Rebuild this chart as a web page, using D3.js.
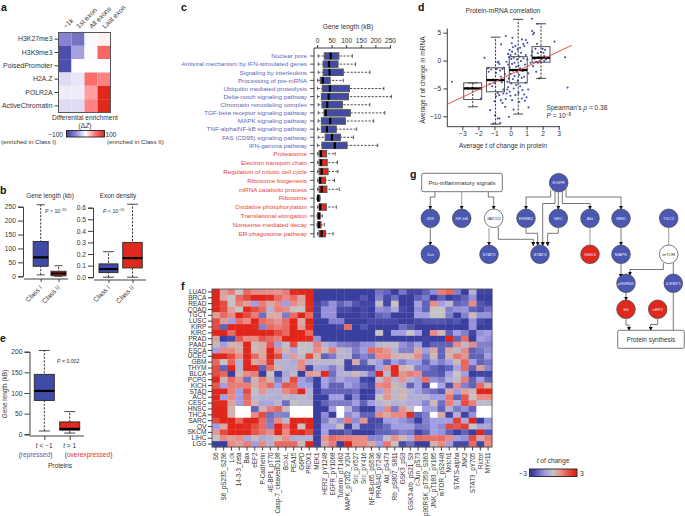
<!DOCTYPE html>
<html><head><meta charset="utf-8">
<script src="https://cdnjs.cloudflare.com/ajax/libs/d3/7.8.5/d3.min.js"></script>
<style>
html,body{margin:0;padding:0;background:#fff}
svg{display:block}
text{font-family:"Liberation Sans",Arial,sans-serif;fill:#333}
.bold{font-weight:700;fill:#111}
</style></head><body>
<script>
// ---------- panel a ----------
const aMarks=["H3K27me3","H3K9me3","PoisedPromoter","H2A.Z","POLR2A","ActiveChromatin"];
const aRegions=["−1k","1st exon","All exons","Last exon"];
const aValues=[[-55,-65,-3,5],[-90,-40,-2,60],[-90,-1,-1,-1],[-15,-10,55,45],[-8,-8,35,100],[-15,-15,45,100]];
// ---------- panel b, e: [low, q1, median, q3, high] ----------
const bClasses=["Class I","Class II"];
const bGeneLength=[[5,36,68,125,257],[0,2,10,18,38]];
const bExonDensity=[[0,.04,.07,.115,.22],[0,.08,.165,.3,.63]];
const eGroups=["t < −1","t > 1"];
const eGeneLength=[[8,82,105,145,203],[3,10,13,30,55]];
// ---------- panel c ----------
const cBlue=["Nuclear pore","Antiviral mechanism by IFN-stimulated genes","Signaling by interleukins","Processing of pre-mRNA","Ubiquitin mediated proteolysis","Delta-notch signaling pathway","Chromatin remodeling complex","TGF-beta receptor signaling pathway","MAPK signaling pathway","TNF-alpha/NF-kB signaling pathway","FAS (CD95) signaling pathway","IFN-gamma pathway"];
const cRed=["Proteasome","Electron transport chain","Regulation of mitotic cell cycle","Ribosome biogenesis","mRNA catabolic process","Ribosome","Oxidative phosphorylation","Translational elongation","Nonsense-mediated decay","ER-phagosome pathway"];
const cBlueStats=[[4,25,47,75,121],[4,21,41,72,132],[4,21,43,90,181],[2,11,20,45,90],[2,18,44,111,229],[2,15,40,108,255],[4,17,35,87,181],[4,24,30,114,232],[4,15,45,97,194],[2,15,34,66,136],[4,28,51,80,125],[2,17,61,103,208]];
const cRedStats=[[2,7,14,33,62],[2,7,14,35,70],[2,7,16,38,72],[2,7,11,29,60],[2,7,16,34,76],[0,2,4,10,10],[2,7,11,32,66],[0,2,7,11,18],[0,2,7,14,25],[2,7,16,29,55]];
const cTicks=[0,50,100,150,200,250];
// ---------- panel d ----------
const dBoxT=[-2.35,-.93,.48,1.9];
const dBoxes=[[-8.3,-7,-5,-4,-4],[-11.4,-5.6,-3.5,-1.3,4.2],[-9.6,-4,-1.7,.7,7.4],[-3.2,-.3,.5,2.5,6.6]];
const dFit=[[-3.97,-7.9],[3.82,2.75]];
const dProtein=[-3.65,-2.37,-2.68,-1.85,-1.62,-1.27,-.96,-.79,-.64,-1.06,-.69,-.58,-.29,.12,.08,.71,1.33,1.68,1.35,1.47,1.41,2.74,3.4,3.55,1.12,-.1,.19,-.33,
-1.4,-1.35,-1.2,-1.1,-1,-.95,-.9,-.85,-.8,-.75,-.7,-.65,-.6,-.55,-.5,-.45,-.8,-.7,-.6,-.5,-.45,-.4,-.35,-1.3,-1.15,-1,-.9,
-.3,-.25,-.2,-.2,-.15,-.15,-.1,-.1,-.05,-.05,0,0,0,.05,.05,.1,.1,.1,.15,.15,.2,.2,.25,.25,.3,.3,.35,.35,.4,.4,.45,.45,.5,.5,.55,.55,.55,.6,.6,.65,.65,.7,.7,.75,.75,.8,.85,.85,.85,.9,.9,.95,.95,1,1,1.05,1.05,1.1,1.1,.95,.8,.6,.3,.15,-.05,-.15,-.25,
1.25,1.3,1.35,1.4,1.5,1.55,1.6,1.7,1.7,1.75,1.85,1.9,2,2.1,2.15,2.2,1.6,1.8,2.05,1.65,2.1];
const dMrna=[-3.8,-4.9,-4.9,-6.8,.5,-8.9,-9.8,-10.4,-11.2,-11.3,-10.4,2.9,4.4,4.1,3.1,3.8,7.5,6.6,5.3,5,4.7,3.4,.6,-4.85,-8.4,-10.1,-8.8,-8.3,
-1.4,-2,-1.6,-3.4,-4,-3.6,-2.2,-1.5,-.3,-.2,-.6,-1.8,-2.9,-3.9,-1.5,-5.9,-5.8,-6.2,-7.1,-7.6,-5.2,-1.3,-2.4,-4.2,-4.6,-7.3,-6.4,
-6.9,-5.9,-5.2,-3.8,-4.8,-.7,-3.2,.6,-5.6,-1.2,-6.3,-2.4,1,-4.1,.3,-7.1,-.6,1.6,-3.3,-1.8,-5,.5,-2.8,-.4,1.2,-6.2,-4.4,-1.1,-2,.2,2,-3.6,-5.8,-.9,-7.4,-2.6,.7,-4.6,-1.4,-.1,1.4,-6.8,-3.1,-5.3,-1.9,.4,-6.1,-2.9,2.6,-7.2,-.7,-4,1,-6.6,-1.6,.2,3.2,-2.3,-5.2,3.7,3,2.3,2.6,2.4,1.9,1.2,-.2,
-.4,.9,1.6,-1,.3,2.1,-.2,-.4,1.3,.6,-.1,1.5,2.1,.8,1.9,.2,-2,-3.2,1.4,3,-.1];
const dTicksX=[-3,-2,-1,0,1,2,3];
const dTicksY=[5,0,-5,-10];
// ---------- panel f ----------
const fTumours=["LUAD","BRCA","READ","COAD","TGCT","LUSC","KIRP","KIRC","PRAD","PAAD","ESCA","UCEC","GBM","THYM","BLCA","PCPG","KICH","STAD","ACC","CESC","HNSC","THCA","SARC","OV","SKCM","LIHC","LGG"];
const fProteins=["S6","S6_pS235_S236","Lck","14-3-3_zeta","Bax","eEF2","P-Cadherin","4E-BP1_pT70","Casp-7_cleavedD198","Bcl-xL","PEA15","G6PD","PRDX1","MEK1","HER2_pY1248","EGFR_pY1068","Tuberin_pT1462","MAPK_pT202_Y204","Src_pY527","Src_pY416","NF-kB-p65_pS536","PRAS40_pT246","Akt_pS473","Rb_pS807_S811","GSK3_pS9","GSK3-a/b_pS21_S9","c-Jun_pS73","p90RSK_pT359_S363","JNK_pT183_pY185","mTOR_pS2448","Notch1","STATS-alpha","JNK2","STAT3_pY705","Rictor","MYH11"];
const _=null;
const fValues=[
[3,.6,1.2,0,1.5,1,1,1,.8,1.2,2.5,3,3,-2.9,-2.9,-2.9,-2.9,-2.9,-2.9,-2.9,-2.9,-1.7,-2,-2.9,-1.7,-2.5,-2.5,-2,-1.3,1.2,1.6,-1.5,-2.8,-.5,-2.5,-2.5],
[3,.5,0,1.5,2,3,3,2.5,1.5,1,1.5,.6,3,-2.9,-2.9,-2.9,-2.9,-2.6,-2.8,-2.2,-2.8,-1.5,-2.4,-1.8,-2.6,-2.8,-2,-1.6,-2.8,-2,-2.7,-2.4,-2,-1.2,-2.6,-2.6],
[3,2,0,1.2,.6,-1,1.2,.5,1,-1,1,.5,2.5,-2.5,-2,-1.2,-2,-1.5,-2.2,-2.5,-2.5,-.2,-2.5,0,-2.8,-2.8,-1,-2,1,-1,-.3,-2,-1.8,1,-2.2,-2.5],
[3,2,.6,0,2.5,2,1.5,-.5,1.2,1,0,0,2.5,-2.5,-1.2,-1.2,-2.4,-2.4,-2.6,-2.4,-2.6,-1.2,-1.4,-.7,-2.4,-2.8,-1.2,-2,0,0,-1.5,-1.2,-1.1,-2,-2.3,-1.8],
[.6,1.5,1,3,2,1.2,-1.8,.4,.4,-1.6,1.5,2.8,1.5,-2.5,-1.2,-1.2,-2.6,-2.6,-2.6,-2.4,-2.7,-2,-1.8,-2.6,-2.6,-2.8,-1,-1,0,0,-1.5,-2.8,-1.5,.2,-1.2,-1.2],
[2,.7,-1,1.5,1,3,1.5,1.2,.8,1.5,3,.4,3,-2.8,-2.8,-1.5,-1.5,-2.8,-2.6,-2.6,-2.4,-2.4,-2.4,-2.4,-2.8,-2.8,-2.4,-2.2,-2.2,-2.2,-2.4,-2.2,-2.6,-1.2,-2.4,-2.7],
[2,-2,3,3,3,2.5,-1.5,1.5,1.2,1.5,3,.7,2.5,-2.9,-2.9,-2.9,-2.4,1.5,-2.7,-2.2,-2.7,-2.8,-2.8,-2.8,-1.8,-2.2,-2.8,-2.8,-2.8,-2.8,-2.8,-2.8,-2.8,-1.2,-2.6,-2.6],
[3,3,1.5,3,3,3,3,3,2,1.5,3,3,1.5,-2.9,-2.9,-2.9,-2.9,-2.9,-2.9,-2.9,-2.9,0,-2.8,-1,-1,0,-1,-2.8,1,.2,-2,-1,-1.5,-2.5,-1.2,-1],
[.6,-3,-2.4,1.8,1,1,1.8,1.5,1.2,3,3,3,2.5,-1.2,-2.9,-2.9,-2.9,-2.9,-2.9,-2.9,-2.9,-2.9,-2.9,-2.9,-2.9,-2.9,-2.9,-2.5,-2.6,-2.6,3,-2,1.5,-2.8,-1,-1.2],
[.2,-1,.3,.4,3,.2,.4,1.8,-1,-.2,2,-.1,-.1,1.2,-.5,-1,-1.5,-1.6,-1.8,-1.2,-1.2,-.3,-.2,-.2,-1.2,-1.6,-1,-2.5,-2,-2,-2,1,-.3,1,-1.5,-1.5],
[-1,1,1,.4,3,.2,.5,3,1,.3,-.8,0,-.2,1,.2,1.2,-.3,-.5,-1.6,-1,1.5,1.2,.8,-.5,-1.5,-1.5,.5,-1,.5,-2,.5,-.3,1,-2,-1.7,-1.3],
[3,3,2,1,3,1.5,.5,3,2,-.7,.7,-.2,2,.3,-2,-1.6,-.4,-.4,-2,-1.4,-1.8,1,1,.3,.2,.2,1,-1.5,.2,-2,.3,1.3,.8,-2,-2,-1],
[1.6,0,1.6,-.4,3,.5,.8,2.3,-.4,-.4,-.7,1,-.5,-.3,-.3,-.3,-.2,-2.5,.4,-2,-.5,-1,-2,-1,-1.5,-1,-1,-2,-1,-1.5,-1,.2,1.6,-1,-2,-1.7],
[2,-2,3,-.4,3,2.5,-2,1.5,.3,-.5,-.5,1,-2.5,-.8,-1,-1.5,-.6,-2.5,-2.3,-2.3,-2.3,-1,.8,3,.2,0,-1.5,-1.6,-2,-2.3,-2,-.9,1.5,-2,.7,-1.4],
[2,1.6,-2.8,.2,1,1.2,-2.8,0,-2.5,-.8,-.3,-2.6,.7,.5,2.5,-1.8,-.5,-.5,.2,-.5,-1.5,3,-.3,2.5,.8,1.2,1,-2,-2,-2.2,-1,0,-1,-2.6,-2.5,-2.5],
[2.8,.3,1.5,.8,-1.8,.3,1.2,.3,-1.6,-.5,2,-1,-1.5,-2.6,-.9,-1.4,-.7,-1.2,-1.2,-2.5,-2.6,-.2,1,-.5,.8,-.5,-1,1.4,-1.2,-1.5,-.5,-.2,1.2,-2,-1,-2],
[1.8,-1,1.2,1.2,1.2,.4,1,1.5,-1,1.8,1.6,-1,-1,-2.6,-1,-2,-2,-1,-1.4,-2,-2.4,1,1.2,.2,-.5,-2,-1,-2.4,_,-.8,-2.3,1,-1.5,-2,1.5,.3],
[3,3,1.2,-1,2,-.2,.8,-.5,-.5,1,1.5,3,-.5,-2.6,-2,-2,-2,-2,-1.8,-2.6,-2.6,-1,.8,-.3,.3,-.5,-1,-1.5,-1.8,-2.2,.5,-1,.6,.2,3,3],
[3,-1,1,-1,1.6,-.3,-.5,-.5,-.6,-.3,-.5,-.3,-.5,-2.6,-2.6,-1,-1,-2.6,-1.4,-2.6,-2.5,0,.8,-.3,.2,-.6,-.6,-.5,-1,-1,1.3,-2,1.8,0,1,1],
[2.5,2.5,.6,-1,1.4,.3,-.8,-.8,-.4,-1.8,-.1,-.3,-.3,-2.6,-2,-1.6,-1.6,-1.6,-1,-2,-1,-.4,-.2,-.5,-.4,-.7,-.7,-1.4,.2,-1.8,1.2,-.6,2,1.2,-.3,-.3],
[3,3,.2,_,_,-2,.3,1.2,1.6,.2,_,_,_,-2.6,-2.6,-1,_,-.5,-1.8,-2.6,-2.6,-1,1,-1.6,.8,-.2,_,-1,-1,-2,-.5,-1.6,-1.2,-2,_,_],
[3,3,.3,_,_,1,2,-1.8,-1.4,-1.5,_,_,_,-2.8,-1.3,-2.6,_,-1.3,-.8,-2,-2,1,.5,1,1,2.5,-2,-1.5,_,.5,-2.5,-.6,-2.5,-1.2,_,_],
[2,3,3,1.6,3,3,1.5,-1.6,1,-.3,3,3,3,-2.8,-1.5,-.5,-1.2,1.3,-1.3,.8,-2.4,-2.4,-1,-.8,-1.2,-1.6,-2.6,-1.5,-1,-1,-1,2.2,-.7,3,-2.7,-1.2],
[-1,.5,3,3,2.5,2,1.5,-1.5,3,1.5,3,0,3,-2.8,-1,-1,.1,-2.8,-.8,-2.4,-2.4,-2.2,-1.8,-1,-1,-1,-1.7,-1.6,-1,-1.3,2,1.8,2.2,0,-.8,-.8],
[.7,2,3,3,3,1.8,1.4,1,3,1,2.5,3,2,-2.8,-1,-2.4,-2.4,-2,-2.6,-2.6,-2.6,-2,-2,-1.8,-1.4,-1.6,-2.5,-2,-1,-1.2,-2,-2.7,-2,-2.7,3,-2.2],
[0,1,.6,1,-.8,.2,-.7,-.5,.2,.9,-.6,-.5,-.5,-2.8,.8,1.5,1.2,1.2,1,1,-1.4,-1.4,-.2,.9,.2,-.7,1.5,1.4,1.4,1.5,1,-1,-1.2,2,.4,1.2],
[-2.8,-2.8,1,.6,1.2,-1,1,-.5,1.5,1.5,1.5,.2,3,-2.8,.5,1.2,-2.7,3,1,1,.5,-1,1.3,0,-2.4,-1.8,-2.7,-2.7,.3,1,-1,-2.4,-2.4,1.5,-2.5,1]
];
// ---------- panel g ----------
const gNodes=["EGFR","JNK","NF-kB","JAK1/2","ERBB2","SRC","Akt","MEK","TSC2","Jun","STAT5","STAT3","GSK3","MAPK","mTOR","p90RSK","4-EBP1","S6","eEF2"];
const gRed=["GSK3","S6","eEF2"];
const gWhite=["JAK1/2","mTOR"];

// ---------- layout ----------
const W=685,H=516;
const svg=d3.select("body").append("svg").attr("width",W).attr("height",H).attr("viewBox",[0,0,W,H]);
const BLUE="#3f4ba6",RED="#e0281c",INK="#2a2a2a",TXT="#333";
const fs=6.7;
svg.append("defs");
function label(g,x,y,s,o={}){
  const t=g.append("text").attr("x",x).attr("y",y).attr("font-size",o.size||fs).attr("text-anchor",o.anchor||"start").text(s);
  if(o.color)t.style("fill",o.color);
  if(o.rotate!=null)t.attr("transform",`rotate(${o.rotate},${x},${y})`);
  if(o.italic)t.attr("font-style","italic");
  return t;
}
function rich(g,x,y,parts,o={}){
  const t=g.append("text").attr("x",x).attr("y",y).attr("font-size",o.size||fs).attr("text-anchor",o.anchor||"start");
  if(o.rotate!=null)t.attr("transform",`rotate(${o.rotate},${x},${y})`);
  parts.forEach(p=>{
    const s=t.append("tspan").text(p.t);
    if(p.i)s.attr("font-style","italic");
    if(p.sup)s.attr("baseline-shift","super").attr("font-size",(o.size||fs)*.7);
    if(p.c)s.style("fill",p.c);
  });
  return t;
}
function styleAxis(sel){
  sel.selectAll("path,line").attr("stroke",INK).attr("stroke-width",.9);
  sel.selectAll("text").attr("font-size",fs).style("fill",TXT);
  sel.attr("font-family",null);
}
function vBox(g,y,cx,w,st,fill,cap,opt={}){
  const [lo,q1,m,q3,hi]=st;
  const stroke=opt.stroke||"#333";
  const bg=g.append("g");
  bg.append("line").attr("x1",cx).attr("x2",cx).attr("y1",y(lo)).attr("y2",y(hi)).attr("stroke","#222").attr("stroke-width",.9).attr("stroke-dasharray","2.2,1.4");
  [lo,hi].forEach(v=>bg.append("line").attr("x1",cx-cap/2).attr("x2",cx+cap/2).attr("y1",y(v)).attr("y2",y(v)).attr("stroke","#333").attr("stroke-width",.9));
  bg.append("rect").attr("x",cx-w/2).attr("width",w).attr("y",y(q3)).attr("height",y(q1)-y(q3)).attr("fill",fill).attr("stroke",stroke).attr("stroke-width",opt.sw||1);
  bg.append("line").attr("x1",cx-w/2).attr("x2",cx+w/2).attr("y1",y(m)).attr("y2",y(m)).attr("stroke","#000").attr("stroke-width",opt.mw||2.2);
}
function hBox(g,x,cy,h,st,fill,cap){
  const [lo,q1,m,q3,hi]=st;
  g.append("line").attr("x1",x(lo)).attr("x2",x(hi)).attr("y1",cy).attr("y2",cy).attr("stroke","#222").attr("stroke-width",.8).attr("stroke-dasharray","2.2,1.4");
  [lo,hi].forEach(v=>g.append("line").attr("y1",cy-cap/2).attr("y2",cy+cap/2).attr("x1",x(v)).attr("x2",x(v)).attr("stroke","#333").attr("stroke-width",.8));
  g.append("rect").attr("x",x(q1)).attr("width",x(q3)-x(q1)).attr("y",cy-h/2).attr("height",h).attr("fill",fill).attr("stroke","#555").attr("stroke-width",1);
  g.append("line").attr("y1",cy-h/2).attr("y2",cy+h/2).attr("x1",x(m)).attr("x2",x(m)).attr("stroke","#000").attr("stroke-width",2.2);
}
[["a",1,11],["b",0,194],["e",0,342],["c",181,11],["d",418,11],["f",181,290],["g",410,178]].forEach(d=>{
  label(svg,d[1],d[2],d[0],{size:10.5}).attr("class","bold");
});

// panel a
{
  const g=svg.append("g");
  const x=d3.scaleBand().domain(aRegions).range([58.5,110.5]);
  const y=d3.scaleBand().domain(aMarks).range([32.5,112.5]);
  const c=d3.scaleLinear().domain([-100,-50,0,50,100]).range(["#3a3f9f","#8f89d6","#ffffff","#ff7575","#e0281c"]);
  aValues.forEach((row,i)=>row.forEach((v,j)=>g.append("rect").attr("x",x(aRegions[j])).attr("y",y(aMarks[i])).attr("width",x.bandwidth()).attr("height",y.bandwidth()).attr("fill",c(v))));
  g.append("rect").attr("x",58.5).attr("y",32.5).attr("width",52).attr("height",80).attr("fill","none").attr("stroke","#555").attr("stroke-width",1);
  const ax=g.append("g").attr("transform","translate(58,0)").call(d3.axisLeft(y).tickSize(3.5).tickPadding(2));
  styleAxis(ax);ax.select(".domain").remove();
  ax.selectAll("text").attr("font-size",6.9);
  aRegions.forEach(r=>label(g,x(r)+x.bandwidth()/2+1,29,r,{rotate:-45,size:6.9}));
  label(g,85,119.5,"Differential enrichment",{anchor:"middle",size:6.6});
  rich(g,85,128,[{t:"(Δ"},{t:"Z",i:1},{t:")"}],{anchor:"middle",size:6.6});
  const lg=svg.select("defs").append("linearGradient").attr("id","ga");
  c.domain().forEach(v=>lg.append("stop").attr("offset",(v+100)/200).attr("stop-color",c(v)));
  g.append("rect").attr("x",66.5).attr("y",130.5).attr("width",38).attr("height",6.5).attr("fill","url(#ga)").attr("stroke","#222").attr("stroke-width",.9);
  label(g,63,136.5,"−100",{anchor:"end",size:6.6});
  label(g,105.5,136.5,"100",{size:6.6});
  label(g,1,144,"(enriched in Class I)",{size:6.2});
  label(g,107,144,"(enriched in Class II)",{size:6.2});
}
// panel b
{
  const g=svg.append("g");
  const y1=d3.scaleLinear().domain([0,250]).range([276.3,206.7]);
  const ya=g.append("g").attr("transform","translate(23,0)").call(d3.axisLeft(y1).tickValues([0,50,100,150,200,250]).tickSize(5).tickPadding(2));
  styleAxis(ya);
  const x1=d3.scaleOrdinal().domain(bClasses).range([40.7,58.5]);
  const xa=g.append("g").attr("transform","translate(0,279)").call(d3.axisBottom(d3.scalePoint().domain(bClasses).range([40.7,58.5])).tickSize(3).tickFormat(""));
  styleAxis(xa);xa.select(".domain").attr("d","M24,0H68");
  vBox(g,y1,x1("Class I"),15,bGeneLength[0],BLUE,8);
  vBox(g,y1,x1("Class II"),15,bGeneLength[1],RED,8);
  label(g,50,198,"Gene length (kb)",{anchor:"middle",size:6.4});
  rich(g,45,213,[{t:"P",i:1},{t:" < 10"},{t:"−16",sup:1}],{size:5.2});
  bClasses.forEach(c=>label(g,x1(c)+2,288,c,{anchor:"end",rotate:-45,size:6.7}));
  const y2=d3.scaleLinear().domain([0,.6]).range([277.2,207.7]);
  const yb=g.append("g").attr("transform","translate(93,0)").call(d3.axisLeft(y2).tickValues([0,.1,.2,.3,.4,.5,.6]).tickSize(5).tickPadding(2).tickFormat(d3.format(".1f")));
  styleAxis(yb);
  const x2=d3.scaleOrdinal().domain(bClasses).range([108.5,132.5]);
  const xb=g.append("g").attr("transform","translate(0,280)").call(d3.axisBottom(d3.scalePoint().domain(bClasses).range([108.5,132.5])).tickSize(3).tickFormat(""));
  styleAxis(xb);xb.select(".domain").attr("d","M94,0H146");
  vBox(g,y2,x2("Class I"),19,bExonDensity[0],BLUE,11);
  vBox(g,y2,x2("Class II"),19.5,bExonDensity[1],RED,11);
  label(g,118,198,"Exon density",{anchor:"middle",size:6.4});
  rich(g,103,213,[{t:"P",i:1},{t:" < 10"},{t:"−16",sup:1}],{size:5.2});
  bClasses.forEach(c=>label(g,x2(c)+2,288,c,{anchor:"end",rotate:-45,size:6.7}));
}
// panel e
{
  const g=svg.append("g");
  const y=d3.scaleLinear().domain([0,200]).range([434.3,351.7]);
  const ya=g.append("g").attr("transform","translate(29.5,0)").call(d3.axisLeft(y).tickValues([0,50,100,150,200]).tickSize(5).tickPadding(2));
  styleAxis(ya);
  const x=d3.scalePoint().domain(eGroups).range([44.3,69.7]);
  const xa=g.append("g").attr("transform","translate(0,436)").call(d3.axisBottom(x).tickSize(4).tickFormat(""));
  styleAxis(xa);xa.select(".domain").attr("d","M29.5,0H84");
  vBox(g,y,x(eGroups[0]),20,eGeneLength[0],BLUE,11);
  vBox(g,y,x(eGroups[1]),20,eGeneLength[1],RED,11);
  label(g,6.5,394,"Gene length (kB)",{anchor:"middle",rotate:-90,size:6.4});
  rich(g,57,363,[{t:"P",i:1},{t:" = 0.002"}],{size:5.2});
  rich(g,44.3,448,[{t:"t",i:1},{t:" < −1"}],{anchor:"middle",size:6.6});
  rich(g,69.7,448,[{t:"t",i:1},{t:" > 1"}],{anchor:"middle",size:6.6});
  rich(g,35.5,456.5,[{t:"("},{t:"repressed",c:"#5a62b8"},{t:")"}],{anchor:"middle",size:6.6});
  rich(g,88.5,456.5,[{t:"("},{t:"overexpressed",c:"#e8352a"},{t:")"}],{anchor:"middle",size:6.6});
  label(g,60,467.5,"Proteins",{anchor:"middle",size:6.6});
}
// panel c
{
  const g=svg.append("g");
  const x=d3.scaleLinear().domain([0,250]).range([317,390]);
  const yB=d3.scalePoint().domain(cBlue).range([56,145.4]);
  const yR=d3.scalePoint().domain(cRed).range([153.7,233.7]);
  const ax=g.append("g").attr("transform","translate(0,48)").call(d3.axisTop(x).tickValues(cTicks).tickSize(3).tickPadding(2));
  styleAxis(ax);
  ax.selectAll("text").attr("font-size",6.6);
  ax.select(".domain").attr("d","M314,0H391");
  g.append("line").attr("x1",314).attr("x2",314).attr("y1",48).attr("y2",238).attr("stroke",INK).attr("stroke-width",.9);
  label(g,348,29,"Gene length (kB)",{anchor:"middle",size:6.7});
  const draw=(names,stats,y,fill,col)=>names.forEach((n,i)=>{
    const cy=y(n);
    g.append("line").attr("x1",310).attr("x2",314).attr("y1",cy).attr("y2",cy).attr("stroke",INK).attr("stroke-width",.8);
    label(g,307,cy+2.3,n,{anchor:"end",size:6.25,color:col});
    hBox(g,x,cy,6.4,stats[i],fill,3.6);
  });
  draw(cBlue,cBlueStats,yB,BLUE,"#5e66b9");
  draw(cRed,cRedStats,yR,RED,"#e9443a");
}
// panel d
{
  const g=svg.append("g");
  const x=d3.scaleLinear().domain([-3,3]).range([462.3,558.7]);
  const y=d3.scaleLinear().domain([5,-10]).range([32.7,116.3]);
  const ya=g.append("g").attr("transform","translate(447.3,0)").call(d3.axisLeft(y).tickValues(dTicksY).tickSize(4).tickPadding(2).tickFormat(d=>d<0?"−"+(-d):d));
  styleAxis(ya);ya.select(".domain").attr("d","M0,28.5V126.7");
  const xa=g.append("g").attr("transform","translate(0,126.7)").call(d3.axisBottom(x).tickValues(dTicksX).tickSize(3.5).tickPadding(1.5).tickFormat(d=>d<0?"−"+(-d):d));
  styleAxis(xa);xa.select(".domain").attr("d","M447.3,0H560");
  g.selectAll(".pt").data(dProtein).enter().append("circle").attr("cx",d=>x(d)).attr("cy",(d,i)=>y(dMrna[i])).attr("r",1.05).attr("fill","#4650ad");
  dBoxT.forEach((t,i)=>{
    vBox(g,y,x(t),18,dBoxes[i],"none",10,{stroke:"#444",sw:.9,mw:2.3});
  });
  g.append("line").attr("x1",x(dFit[0][0])).attr("y1",y(dFit[0][1])).attr("x2",x(dFit[1][0])).attr("y2",y(dFit[1][1])).attr("stroke","#e8402f").attr("stroke-width",.9);
  label(g,503,12.5,"Protein-mRNA correlation",{anchor:"middle",size:6.6});
  rich(g,503,147.5,[{t:"Average "},{t:"t",i:1},{t:" of change in protein"}],{anchor:"middle",size:6.6});
  rich(g,425,80,[{t:"Average "},{t:"t",i:1},{t:" of change in mRNA"}],{anchor:"middle",rotate:-90,size:6.6});
  rich(g,546.5,109.5,[{t:"Spearman's "},{t:"ρ",i:1},{t:" = 0.38"}],{size:6.6});
  rich(g,546.5,118,[{t:"P",i:1},{t:" = 10"},{t:"−8",sup:1}],{size:6.6});
}
// panel f
{
  const g=svg.append("g");
  const x=d3.scaleBand().domain(fProteins).range([212,492]);
  const y=d3.scaleBand().domain(fTumours).range([289,447]);
  const stops=[-2.6,-1,0,1,2.6], cols=["#3a3f9f","#a39ee2","#c7c3c3","#ea8a84","#e0261a"];
  const c=d3.scaleLinear().domain(stops).range(cols).clamp(true);
  fValues.forEach((row,i)=>row.forEach((v,j)=>{
    if(j>=fProteins.length) return;
    g.append("rect").attr("x",x(fProteins[j])).attr("y",y(fTumours[i])).attr("width",x.bandwidth()+.3).attr("height",y.bandwidth()+.3).attr("fill",v===null?"#fff":c(v));
  }));
  g.append("rect").attr("x",212).attr("y",289).attr("width",280).attr("height",158).attr("fill","none").attr("stroke","#555").attr("stroke-width",.9);
  const ay=g.append("g").attr("transform","translate(212,0)").call(d3.axisLeft(y).tickSize(4).tickPadding(1.5));
  styleAxis(ay);ay.select(".domain").remove();
  ay.selectAll("text").attr("font-size",6.6);
  const ax=g.append("g").attr("transform","translate(0,447)").call(d3.axisBottom(x).tickSize(3.5).tickPadding(2));
  styleAxis(ax);ax.select(".domain").remove();
  ax.selectAll("text").attr("font-size",6.35).attr("transform","rotate(-90)").attr("text-anchor","end").attr("x",-5.5).attr("y",0).attr("dy","0.35em");
  rich(g,553,463,[{t:"t",i:1},{t:" of change"}],{anchor:"middle",size:6.6});
  const lg=svg.select("defs").append("linearGradient").attr("id","gf");
  stops.forEach((v,i)=>lg.append("stop").attr("offset",(v+3)/6).attr("stop-color",cols[i]));
  g.append("rect").attr("x",529.5).attr("y",469).attr("width",47.5).attr("height",7.5).attr("fill","url(#gf)").attr("stroke","#222").attr("stroke-width",.9);
  label(g,527,475.5,"−3",{anchor:"end",size:6.8});
  label(g,580,475.5,"3",{size:6.8});
}
// panel g
{
  const g=svg.append("g");
  const pos={EGFR:[558.7,182.7],JNK:[430.3,218.3],"NF-kB":[461.7,218.3],"JAK1/2":[493.7,218.3],ERBB2:[526,218.3],SRC:[558.3,218.3],Akt:[590,218.3],MEK:[621,218.3],TSC2:[668.7,218.3],Jun:[430.3,254.3],STAT5:[489,254.3],STAT3:[540,254.3],GSK3:[590,254.3],MAPK:[621,254.3],mTOR:[668.7,254.3],p90RSK:[626,283.3],"4-EBP1":[673.3,283.3],S6:[626,309.3],eEF2:[657.7,309.3]};
  svg.select("defs").append("marker").attr("id","arr").attr("viewBox","0 0 6 6").attr("refX",5).attr("refY",3).attr("markerWidth",4.2).attr("markerHeight",4.2).attr("markerUnits","userSpaceOnUse").attr("orient","auto").append("path").attr("d","M0,0L6,3L0,6Z").attr("fill","#111");
  const line=d3.line();
  const dark="#555",lite="#aaa";
  const routes=[
    [[435,191.7],[435,197],[430.3,197],[430.3,209]],
    [[488.3,191.7],[488.3,197],[493.7,197],[493.7,209]],
    [[550.7,190],[550.7,197],[526,197],[526,209]],
    [[555,191.5],[555,203.5],[542.7,203.5],[542.7,245.5]],
    [[558.3,192.5],[558.3,209]],
    [[562.3,190.5],[562.3,203.5],[590,203.5],[590,209]],
    [[566,189],[566,197],[621,197],[621,209]],
    [[430.3,228],[430.3,245]],
    [[498.3,227],[498.3,239.3],[533.3,239.3],[533.3,245.5]],
    [[526,228],[526,233.3],[537.7,233.3],[537.7,245.3]],
    [[558.3,228],[558.3,233.3],[547.7,233.3],[547.7,245.5]],
    [[621,228],[621,245]],
    [[621,264],[621,277.5]],
    [[663.3,263],[663.3,269.5],[630,269.5],[630,275]],
    [[626,293],[626,300]],
    [[626,319],[626,325],[629,325],[629,330.3]],
    [[657.7,319],[657.7,324.5],[650.7,324.5],[650.7,330.3]]
  ];
  routes.forEach(r=>g.append("path").attr("d",line(r)).attr("fill","none").attr("stroke",dark).attr("stroke-width",.8).attr("marker-end","url(#arr)"));
  const lites=[[[489,228],[489,245],"arr"],[[461.7,191.7],[461.7,209],"arr"],[[590,228],[590,245],null],[[668.7,228],[668.7,245],null]];
  lites.forEach(r=>{const p=g.append("path").attr("d",line(r.slice(0,2))).attr("fill","none").attr("stroke",lite).attr("stroke-width",1.2);if(r[2])p.attr("marker-end","url(#arr)");});
  const flats=[[[673.3,263],[673.3,274]],[[673.3,293],[673.3,330.3]]];
  flats.forEach(r=>g.append("path").attr("d",line(r)).attr("fill","none").attr("stroke",dark).attr("stroke-width",.8));
  g.append("rect").attr("x",421.7).attr("y",173.3).attr("width",80.6).attr("height",18.4).attr("rx",1.5).attr("fill","#fff").attr("stroke","#555").attr("stroke-width",.8);
  label(g,462,185,"Pro-inflammatory signals",{anchor:"middle",size:6.1});
  g.append("rect").attr("x",617.7).attr("y",330.3).attr("width",66.6).attr("height",18).attr("rx",1.5).attr("fill","#fff").attr("stroke","#555").attr("stroke-width",.8);
  label(g,651,341.5,"Protein synthesis",{anchor:"middle",size:6.4});
  gNodes.forEach(n=>{
    const [cx,cy]=pos[n];
    const red=gRed.includes(n),wh=gWhite.includes(n);
    g.append("circle").attr("cx",cx).attr("cy",cy).attr("r",9.3).attr("fill",red?RED:wh?"#fff":"#4a58b3").attr("stroke","#444").attr("stroke-width",.7);
    label(g,cx,cy+1.6,n,{anchor:"middle",size:4.4,color:wh?"#333":"#e8e8f4"});
  });
}
</script>
</body></html>
